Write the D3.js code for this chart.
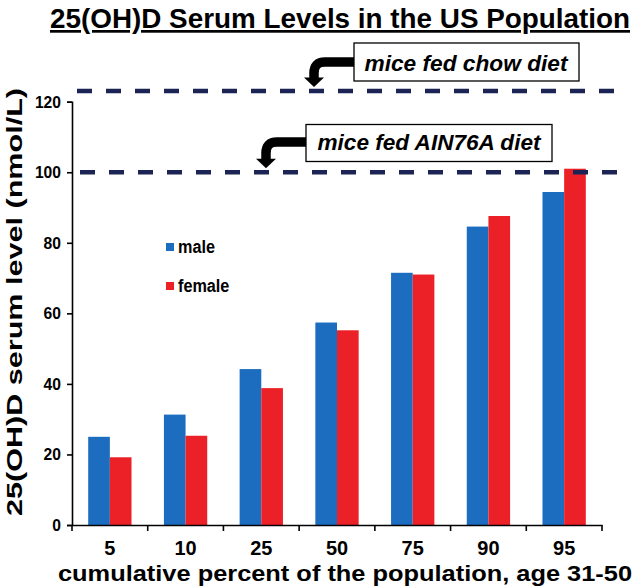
<!DOCTYPE html>
<html><head><meta charset="utf-8">
<script src="https://cdn.jsdelivr.net/npm/d3@7"></script>
<style>
html,body{margin:0;padding:0;background:#fff;}
svg{display:block;font-family:"Liberation Sans",Arial,sans-serif;}
</style></head>
<body><svg id="c" width="640" height="587"></svg>
<script>
const categories = ["5","10","25","50","75","90","95"];
const seriesNames = ["male","female"];
const maleValues = [25.0, 31.3, 44.2, 57.4, 71.5, 84.6, 94.4];
const femaleValues = [19.2, 25.3, 38.8, 55.2, 71.0, 87.6, 101.0];
const yTicks = [0,20,40,60,80,100,120];
const refValues = [123, 100];
const refLabels = ["mice fed chow diet", "mice fed AIN76A diet"];
const colors = ["#1c6dbf","#ec2027"];

const svg = d3.select("#c");
const x0 = 72, x1 = 602, yb = 525, yt = 101.7;
const x = d3.scaleBand().domain(categories).range([x0,x1]).paddingInner(0).paddingOuter(0);
const xs = d3.scaleBand().domain(seriesNames).range([0,x.bandwidth()]).paddingInner(0).paddingOuter(0.748);
const y = d3.scaleLinear().domain([0,120]).range([yb,yt]);

function condense(sel, f){
  sel.each(function(){
    const L = this.getComputedTextLength();
    d3.select(this).attr("textLength", L*f).attr("lengthAdjust","spacingAndGlyphs");
  });
}

// title
svg.append("text").attr("x",340).attr("y",28).attr("text-anchor","middle")
  .attr("font-size",27).attr("font-weight","bold").attr("text-decoration","underline")
  .attr("textLength",580).attr("lengthAdjust","spacingAndGlyphs")
  .text("25(OH)D Serum Levels in the US Population");

// bars
const data = categories.map((c,i)=>({c, vals:[maleValues[i],femaleValues[i]]}));
const g = svg.append("g");
data.forEach(d=>{
  d.vals.forEach((v,j)=>{
    g.append("rect").attr("x",x(d.c)+xs(seriesNames[j])).attr("width",xs.bandwidth())
      .attr("y",y(v)).attr("height",yb-y(v)).attr("fill",colors[j]);
  });
});

// axes
const ya = svg.append("g").attr("transform",`translate(${x0},0)`)
  .call(d3.axisLeft(y).tickValues(yTicks).tickSize(5).tickPadding(6));
ya.select(".domain").attr("stroke","#000").attr("stroke-width",1.6);
ya.selectAll(".tick line").attr("stroke","#000").attr("stroke-width",1.6);
ya.selectAll("text").attr("font-size",17).attr("font-weight","bold").attr("fill","#000").attr("font-family","Liberation Sans, Arial, sans-serif");
condense(ya.selectAll("text"),0.92);

const xa = svg.append("g").attr("transform",`translate(0,${yb})`)
  .call(d3.axisBottom(x).tickSize(0).tickPadding(15));
xa.select(".domain").attr("stroke","#000").attr("stroke-width",1.6);
xa.selectAll("text").attr("font-size",21).attr("font-weight","bold").attr("fill","#000").attr("font-family","Liberation Sans, Arial, sans-serif");
condense(xa.selectAll("text"),0.95);
// category boundary ticks
const bounds = categories.map(c=>x(c)).concat([x1]);
svg.append("g").selectAll("line").data(bounds).join("line")
  .attr("x1",d=>d).attr("x2",d=>d).attr("y1",yb).attr("y2",yb+6)
  .attr("stroke","#000").attr("stroke-width",1.6);

// axis titles
svg.append("text").attr("transform","translate(22,302) rotate(-90)").attr("text-anchor","middle")
  .attr("font-size",22.5).attr("font-weight","bold").attr("textLength",428).attr("lengthAdjust","spacingAndGlyphs")
  .text("25(OH)D serum level (nmol/L)");
svg.append("text").attr("x",345).attr("y",581).attr("text-anchor","middle")
  .attr("font-size",22.5).attr("font-weight","bold").attr("textLength",574).attr("lengthAdjust","spacingAndGlyphs")
  .text("cumulative percent of the population, age 31-50");

// reference dashed lines
const refStart = [77,80];
refValues.forEach((v,i)=>{
  svg.append("line").attr("x1",refStart[i]).attr("x2",628).attr("y1",y(v)).attr("y2",y(v))
    .attr("stroke","#1b2454").attr("stroke-width",4.5).attr("stroke-dasharray","15,14");
});

// annotation boxes with arrows
const boxes = [
  {bx:354, by:43, bw:225, bh:38, tx:466, ty:71, tw:203, ax:314, ay:62},
  {bx:306, by:124.5, bw:246, bh:37, tx:429, ty:150, tw:223, ax:266, ay:142}
];
boxes.forEach((b,i)=>{
  svg.append("rect").attr("x",b.bx).attr("y",b.by).attr("width",b.bw).attr("height",b.bh)
    .attr("fill","#fff").attr("stroke","#000").attr("stroke-width",1.3);
  svg.append("text").attr("x",b.tx).attr("y",b.ty).attr("text-anchor","middle")
    .attr("font-size",21.5).attr("font-weight","bold").attr("font-style","italic")
    .attr("textLength",b.tw).attr("lengthAdjust","spacingAndGlyphs")
    .text(refLabels[i]);
  const tipY = y(refValues[i]) - 4;
  const headTop = tipY - 9.5;
  const r = 11;
  svg.append("path")
    .attr("d",`M${b.bx},${b.ay} L${b.ax+r},${b.ay} Q${b.ax},${b.ay} ${b.ax},${b.ay+r} L${b.ax},${headTop+1}`)
    .attr("fill","none").attr("stroke","#000").attr("stroke-width",9.5);
  svg.append("path")
    .attr("d",`M${b.ax-10},${headTop} L${b.ax+10},${headTop} L${b.ax},${tipY} Z`)
    .attr("fill","#000");
});

// legend
const leg = [{y:247, t:"male"},{y:286, t:"female"}];
leg.forEach((l,i)=>{
  svg.append("rect").attr("x",166).attr("y",l.y-4).attr("width",8).attr("height",8).attr("fill",colors[i]);
  const t = svg.append("text").attr("x",178).attr("y",l.y+6).attr("font-size",18).attr("font-weight","bold").text(seriesNames[i]);
  condense(t,0.9);
});
</script></body></html>
